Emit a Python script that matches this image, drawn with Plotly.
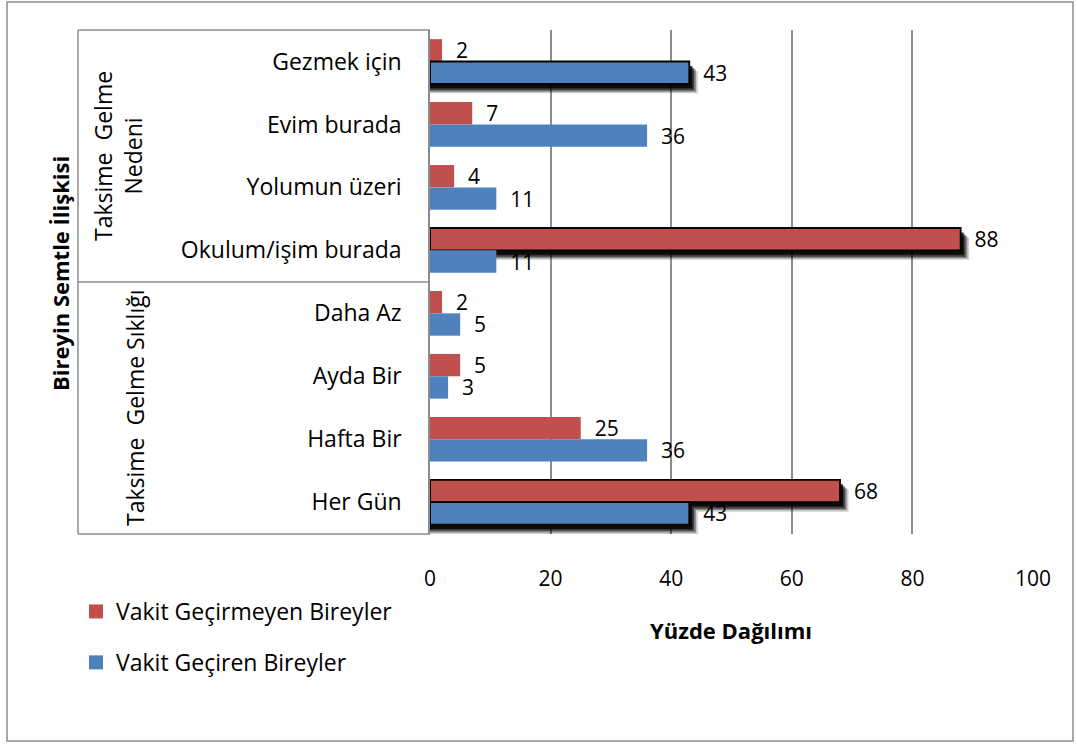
import plotly.graph_objects as go

categories = ["Gezmek için", "Evim burada", "Yolumun üzeri", "Okulum/işim burada",
              "Daha Az", "Ayda Bir", "Hafta Bir", "Her Gün"]
groups = ["Taksime\u00a0 Gelme<br>Nedeni", "Taksime\u00a0 Gelme Sıklığı"]
series_names = ["Vakit Geçirmeyen Bireyler", "Vakit Geçiren Bireyler"]
vakit_gecirmeyen = [2, 7, 4, 88, 2, 5, 25, 68]
vakit_geciren = [43, 36, 11, 11, 5, 3, 36, 43]
x_ticks = [0, 20, 40, 60, 80, 100]

# styling: which bars carry the black outline + shadow
outlined = [[3, 7], [0, 7]]
colors = ["#C0504D", "#4F81BD"]

W, H = 1077, 744
L, R, T, B = 430, 1033, 30, 534
FONT = "Open Sans"


def px(xp):
    return (xp - L) / (R - L)


def py(yp):
    return (B - yp) / (B - T)


fig = go.Figure()
for k, (name, vals) in enumerate(zip(series_names, [vakit_gecirmeyen, vakit_geciren])):
    lw = [1.8 if i in outlined[k] else 0 for i in range(len(vals))]
    fig.add_trace(go.Bar(
        y=categories, x=vals, orientation="h", name=name,
        marker=dict(color=colors[k], line=dict(color="black", width=lw)),
        text=vals, texttemplate="\u00a0\u00a0%{x}", textposition="outside",
        textfont=dict(family=FONT, size=21, color="black"), constraintext="none",
        cliponaxis=False, showlegend=False,
    ))
# legend-only entries (plain filled squares)
for k, name in enumerate(series_names):
    fig.add_trace(go.Scatter(y=[None], x=[None], mode="markers", name=name,
                             marker=dict(color=colors[k], symbol="square", size=14, line=dict(width=0)),
                             legendgroup=name, showlegend=True, hoverinfo="skip"))

bargap = 0.29
bw = (1 - bargap) / 2
shapes = []
# soft shadows below outlined bars (derived from data)
for k, vals in enumerate([vakit_gecirmeyen, vakit_geciren]):
    for i in outlined[k]:
        y0 = i - bw + k * bw
        y1 = y0 + bw
        for dx, dy, op in [(1.4, 0.15, 0.2), (1.1, 0.125, 0.35), (0.8, 0.1, 0.55), (0.5, 0.07, 0.8)]:
            shapes.append(dict(type="rect", xref="x", yref="y", layer="between",
                               x0=0, x1=vals[i] + dx, y0=y0 + dy, y1=y1 + dy,
                               fillcolor=f"rgba(0,0,0,{op})", line=dict(width=0)))

line_c = "#8C8C8C"
xl = px(78)
shapes += [
    dict(type="line", xref="paper", yref="paper", x0=xl, x1=xl, y0=0, y1=1, line=dict(color=line_c, width=1.5)),
    dict(type="line", xref="paper", yref="paper", x0=xl, x1=0, y0=1, y1=1, line=dict(color=line_c, width=1.5)),
    dict(type="line", xref="paper", yref="paper", x0=xl, x1=0, y0=0.5, y1=0.5, line=dict(color=line_c, width=1.5)),
    dict(type="line", xref="paper", yref="paper", x0=xl, x1=0, y0=0, y1=0, line=dict(color=line_c, width=1.5)),
    dict(type="rect", xref="paper", yref="paper", x0=px(7), x1=px(1073), y0=py(741), y1=py(2),
         line=dict(color=line_c, width=1.5), fillcolor="rgba(0,0,0,0)"),
]


def ann(text, x, y, size, angle=0):
    return dict(text=text, x=px(x), y=py(y), xref="paper", yref="paper", showarrow=False,
                xanchor="center", yanchor="middle", textangle=angle,
                font=dict(family=FONT, size=size, color="black"))


annotations = [
    ann(groups[0], 118, 156, 23, -90),
    ann(groups[1], 135, 408, 23, -90),
    ann("<b>Bireyin Semtle İlişkisi</b>", 60, 274, 22, -90),
    ann("<b>Yüzde Dağılımı</b>", 731, 630, 22),
]

fig.update_layout(
    width=W, height=H,
    margin=dict(l=L, r=W - R, t=T, b=H - B, autoexpand=False),
    paper_bgcolor="white", plot_bgcolor="white",
    barmode="group", bargap=bargap, bargroupgap=0,
    font=dict(family=FONT, size=21, color="black"),
    shapes=shapes, annotations=annotations,
    legend=dict(x=px(76), y=py(590), xanchor="left", yanchor="top",
                traceorder="grouped", tracegroupgap=18,
                font=dict(family=FONT, size=23, color="black"), bgcolor="rgba(0,0,0,0)"),
    xaxis=dict(range=[0, 100], tickvals=x_ticks, showgrid=True, gridcolor=line_c, gridwidth=1.5,
               zeroline=False, showline=False, ticks="", ticklabelstandoff=30,
               tickfont=dict(family=FONT, size=21, color="black")),
    yaxis=dict(type="category", autorange="reversed", showline=True, linecolor=line_c, linewidth=1.5,
               ticks="", showgrid=False, ticklabelstandoff=22,
               tickfont=dict(family=FONT, size=23, color="black")),
)

fig.write_html("out.html", config={"displayModeBar": False},
               post_script="document.body.style.margin='0px';")
